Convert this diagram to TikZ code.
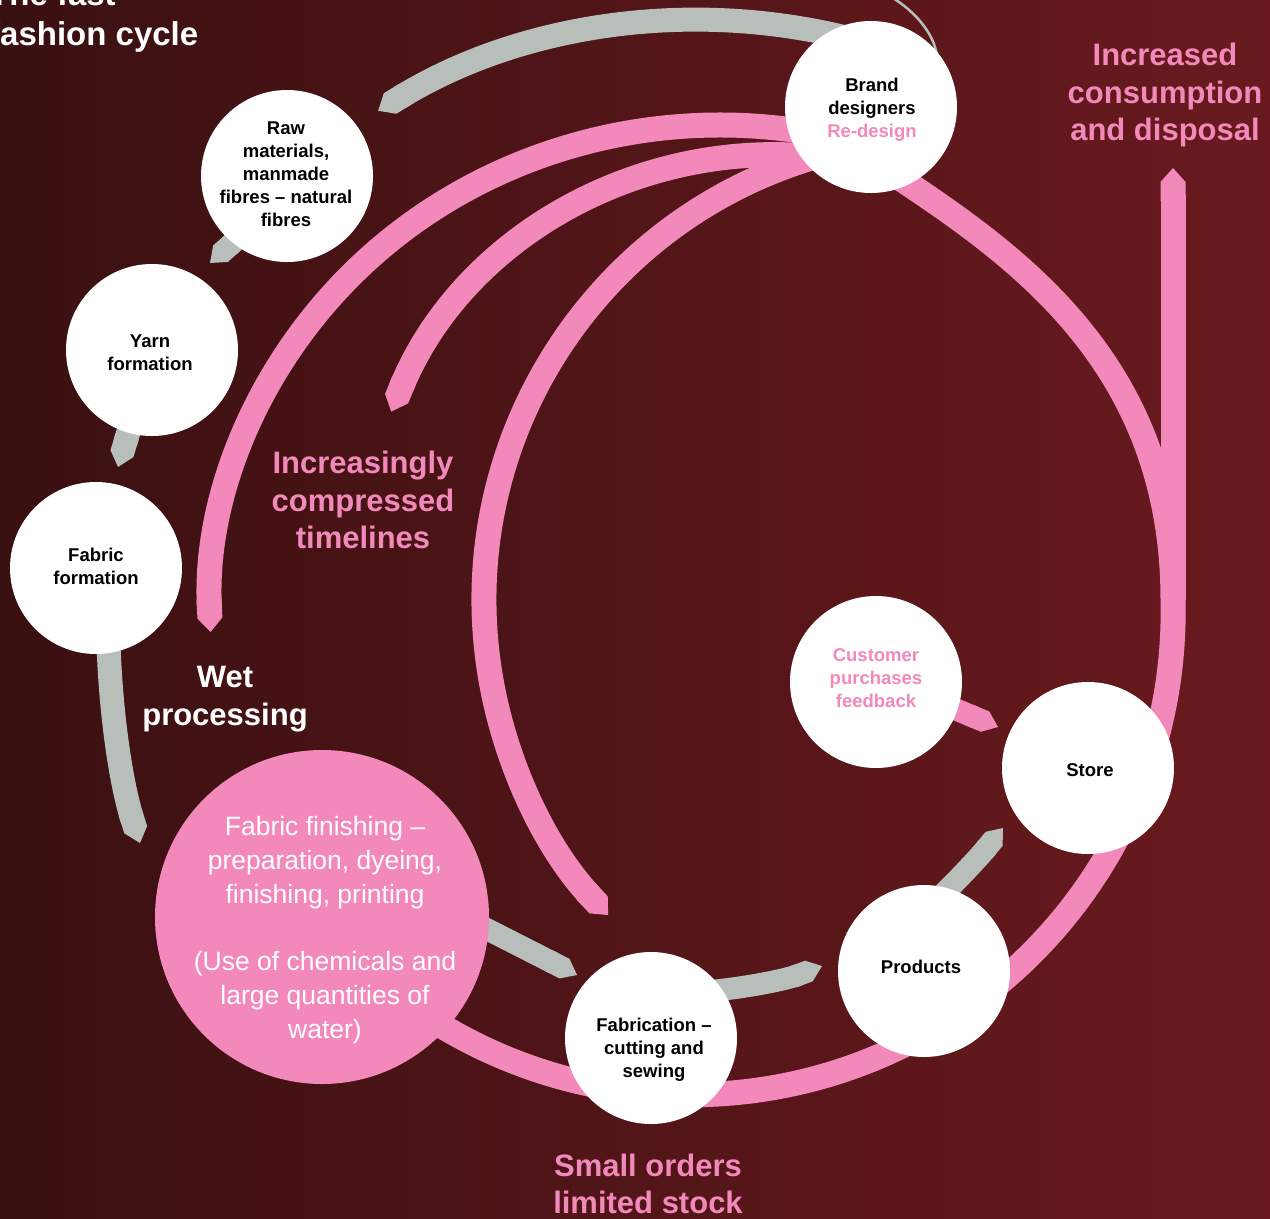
\documentclass[tikz,border=0pt]{standalone}
\usepackage{fontspec}
\setmainfont{Liberation Sans}
\usetikzlibrary{arrows.meta,calc}
\definecolor{pk}{RGB}{242,137,186}
\definecolor{gy}{RGB}{184,190,186}
\definecolor{bgl}{RGB}{58,16,17}
\definecolor{bgr}{RGB}{106,26,31}
\pgfdeclarelayer{bg}
\pgfdeclarelayer{bands}
\pgfsetlayers{bg,bands,main}
\begin{document}
\begin{tikzpicture}[x=1pt,y=-1pt,
  pinkband/.style={draw=pk,line width=25pt},
  greyband/.style={draw=gy,line width=24pt},
  tipped/.style={-{Triangle Cap[length=14pt]}},
  stage/.style={circle,fill=white,minimum size=172pt,inner sep=0pt},
  stxt/.style={align=center,font=\fontsize{18.5}{23}\selectfont\bfseries,text=black,inner sep=0pt},
  big/.style={align=center,font=\fontsize{31}{37.5}\selectfont\bfseries,inner sep=0pt},
  ttl/.style={font=\fontsize{33}{40}\selectfont\bfseries,text=white,anchor=base west,inner sep=0pt}
]
\useasboundingbox (0,0) rectangle (1270,1219);
\clip (0,0) rectangle (1270,1219);
\begin{pgfonlayer}{bg}
\shade[left color=bgl,right color=bgr] (0,0) rectangle (1270,1219);
\end{pgfonlayer}

% stage circles
\node[stage] (brand) at (871,107) {};
\node[stage] (raw) at (287,176) {};
\node[stage] (yarn) at (152,350) {};
\node[stage] (fabform) at (96,568) {};
\node[circle,fill=pk,minimum size=334pt,inner sep=0pt] (finish) at (322,917) {};
\node[stage] (fabric) at (651,1038) {};
\node[stage] (products) at (924,971) {};
\node[stage] (store) at (1088,768) {};
\node[stage] (customer) at (876,682) {};

% texts in circles
\node[stxt] (brandT) at (872,110) {Brand\\designers\\\textcolor{pk}{Re-design}};
\node[stxt] (rawT) at (286,174) {Raw\\materials,\\manmade\\fibres -- natural\\fibres};
\node[stxt] (yarnT) at (150,353) {Yarn\\formation};
\node[stxt] (fabformT) at (96,566) {Fabric\\formation};
\node[stxt] (fabricT) at (654,1050) {Fabrication --\\cutting and\\sewing};
\node[stxt] (productsT) at (921,967) {Products};
\node[stxt] (storeT) at (1090,770) {Store};
\node[stxt,text=pk] (customerT) at (876,678) {Customer\\purchases\\feedback};
\node[align=center,text=white,inner sep=0pt,font=\fontsize{26.5}{34}\selectfont] (finishT) at (325,930)
  {Fabric finishing --\\preparation, dyeing,\\finishing, printing\\[33pt](Use of chemicals and\\large quantities of\\water)};

% labels
\node[big,text=pk] (consum) at (1165,95) {Increased\\consumption\\and disposal};
\node[big,text=pk] (compress) at (363,500) {Increasingly\\compressed\\timelines};
\node[big,text=white] (wet) at (225,699) {Wet\\processing};
\node[big,text=pk] (small) at (648,1184) {Small orders\\limited stock};
\node[ttl] (title1) at (-11,5) {The fast};
\node[ttl] (title2) at (-11,45) {fashion cycle};

% tips
\coordinate (vtip) at (1173,168);
\coordinate (vbase) at (1173,600);
\coordinate (g2tip) at (210,263);
\coordinate (g3tip) at (118,467);
\coordinate (g4tip) at (140,843);
\coordinate (g5tip) at (577,975);
\coordinate (g6tip) at (822,966);
\coordinate (g7tip) at (1003,828);
\coordinate (ptip) at (998,727);

\begin{pgfonlayer}{bands}
% thin line top right
\draw[gy,line width=2.5pt] (893,-2) .. controls (915,12) and (933,32) .. ($(brand)+(66,-52)$);
% grey process arrows
\draw[greyband,tipped] ($(brand)+(-22,-68.7)$) arc[start angle=-76,end angle=-121.5,radius=616];
\draw[greyband,line width=22pt,tipped] ($(raw)+(-42,56)$) -- (g2tip);
\draw[greyband,tipped] ($(yarn)+(-20,70)$) -- (g3tip);
\draw[greyband,tipped] ($(fabform)+(12,60)$) .. controls (110,720) and (123,790) .. (g4tip);
\draw[greyband,line width=22pt,tipped] ($(finish)+(145,2)$) -- (g5tip);
\draw[greyband,line width=22pt,tipped] ($(fabric)+(50,-46)$) .. controls (745,988) and (785,980) .. (g6tip);
\draw[greyband,line width=22pt,tipped] ($(products)+(10,-68)$) .. controls (958,880) and (980,856) .. (g7tip);
% pink loops
\draw[pinkband] ($(brand)+(9,58)$) .. controls (1005,248) and (1173,355) .. (vbase)
   arc[start angle=-1.4,end angle=122,radius=483];
\draw[pinkband,tipped] (vbase) -- (vtip);
\draw[pinkband,tipped] ($(brand)+(-27.6,32.4)$) arc[start angle=-76,end angle=-182.6,x radius=510,y radius=485];
\draw[pinkband,tipped] ($(brand)+(-24,54)$) arc[start angle=-80,end angle=-157.6,radius=415];
\draw[pinkband,tipped] ($(brand)+(-5.2,38)$) arc[start angle=-100,end angle=-223,radius=462];
\draw[pinkband,line width=22pt,tipped] ($(customer)+(62,20)$) -- (ptip);
\end{pgfonlayer}
\end{tikzpicture}
\end{document}
